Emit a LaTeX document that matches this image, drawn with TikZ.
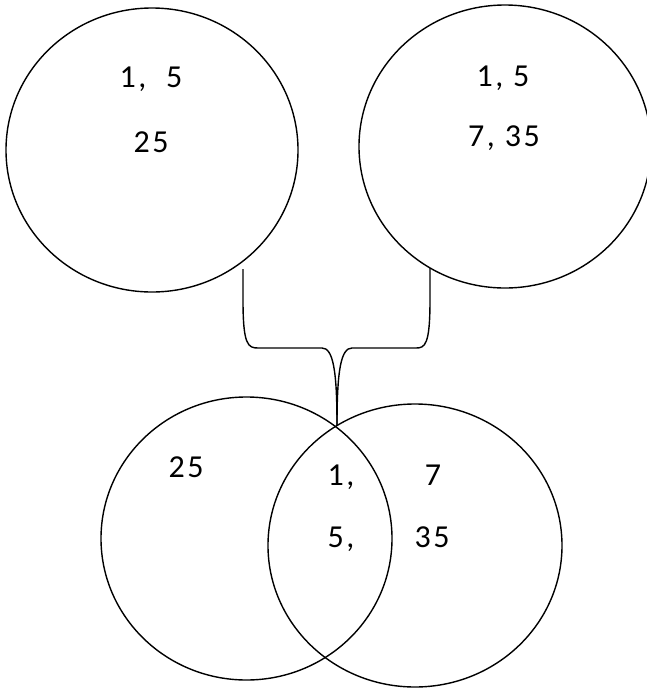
\documentclass[tikz,border=0pt]{standalone}
\usepackage{fontspec}
\setmainfont{Carlito}[LetterSpace=8]
\usetikzlibrary{shapes.geometric}

\begin{document}
\begin{tikzpicture}[x=1pt, y=-1pt, line width=1.4pt,
    setring/.style 2 args={draw, ellipse, inner sep=0pt, outer sep=0pt,
        minimum width=#1pt, minimum height=#2pt},
    num/.style={font=\fontsize{32}{38}\selectfont, inner sep=0pt}]
    \useasboundingbox (0,0) rectangle (647,689);

    % 1. TOP SETS
    \node[setring={292}{284}] (setA) at (152,150) {};
    \node[setring={292}{283}] (setB) at (505,146.5) {};
    \node[num] (a1) at (151,79) {1,~~5};
    \node[num] (a2) at (151,142) {25};
    \node[num] (b1) at (503,78) {1,~5};
    \node[num] (b2) at (504,138) {7,~35};

    % 2. BOTTOM SETS (VENN)
    \node[setring={291}{283}] (setL) at (246.5,538.5) {};
    \node[setring={294}{283}] (setR) at (415,545.5) {};
    \node[num] (l1) at (186,467) {25};
    \node[num] (m1) at (341,477) {1,};
    \node[num] (m2) at (341,539) {5,};
    \node[num] (r1) at (433,475) {7};
    \node[num] (r2) at (432,537) {35};

    % 3. BRACE JOINING THE TWO SETS
    \coordinate (footA) at (243,269);
    \coordinate (footB) at (430,268);
    \coordinate (meet) at (337,425);
    \draw (footA) -- (243,300) .. controls (243,345) and (248,348) .. (258,348)
        -- (322,348) .. controls (333,348) and (337,370) .. (meet);
    \draw (footB) -- (430,300) .. controls (430,345) and (425,348) .. (416,348)
        -- (352,348) .. controls (341,348) and (337,370) .. (meet);
\end{tikzpicture}
\end{document}
